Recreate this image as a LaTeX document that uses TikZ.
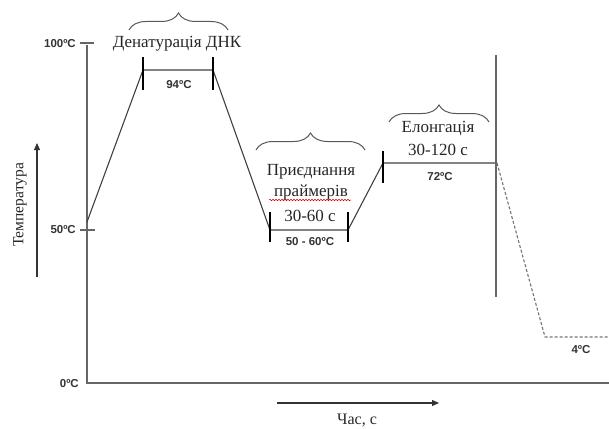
\documentclass[tikz,border=0pt]{standalone}
\usepackage{fontspec}
\setmainfont{Liberation Serif}
\newfontfamily\labfont{Liberation Sans}
\usetikzlibrary{decorations.pathreplacing,decorations.pathmorphing,arrows.meta,calc}
\begin{document}
\begin{tikzpicture}[x=1pt,y=-1pt,
  axisline/.style={draw=black!60, line width=1.1pt},
  profline/.style={draw=black!75, line width=1.1pt},
  dashline/.style={draw=black!55, line width=1.1pt, dash pattern=on 3pt off 2pt},
  barline/.style={draw=black, line width=1.8pt},
  tlab/.style={font=\labfont\bfseries\fontsize{11.5}{12}\selectfont, text=black!80, inner sep=0pt},
  sertext/.style={font=\fontsize{17}{19}\selectfont, text=black!85, inner sep=0pt},
  bracestyle/.style={draw=black!65, line width=1pt, decorate, decoration={brace, amplitude=17pt, aspect=0.5}},
  arrline/.style={draw=black!80, line width=1.1pt, -{Triangle[length=7pt,width=6pt]}}
]
\useasboundingbox (0,0) rectangle (609,428);
% axes
\coordinate (ytop) at (87,45);
\coordinate (orig) at (87,383);
\coordinate (xend) at (609,383);
\draw[axisline] (ytop) -- (orig) -- (xend);
\coordinate (t100a) at (80,43); \coordinate (t100b) at (94,43);
\coordinate (t50a) at (80,230); \coordinate (t50b) at (95,230);
\draw[axisline] (t100a) -- (t100b);
\draw[axisline] (t50a) -- (t50b);
\node[tlab, anchor=east] (l100) at (76,44) {100ºC};
\node[tlab, anchor=east] (l50) at (76,230) {50ºC};
\node[tlab, anchor=east] (l0) at (79,384) {0ºC};
% profile
\coordinate (p0) at (87,222);
\coordinate (p1) at (143,70);
\coordinate (p2) at (213,70);
\coordinate (p3) at (270,230);
\coordinate (p4) at (348,230);
\coordinate (p5) at (383,163);
\coordinate (p6) at (497,163);
\coordinate (p7) at (545,337);
\coordinate (p8) at (609,337);
\draw[profline] (p0) -- (p1) -- (p2) -- (p3) -- (p4) -- (p5) -- (p6);
\draw[dashline] (p6) -- (p7) -- (p8);
% bars
\draw[barline] ($(p1)+(0,-13)$) -- ($(p1)+(0,20)$);
\draw[barline] ($(p2)+(0,-13)$) -- ($(p2)+(0,20)$);
\draw[barline] ($(p3)+(0,-18)$) -- ($(p3)+(0,12)$);
\draw[barline] ($(p4)+(0,-18)$) -- ($(p4)+(0,12)$);
\draw[barline] ($(p5)+(0,-12)$) -- ($(p5)+(0,20)$);
% separator
\coordinate (s1) at (496,55);
\coordinate (s2) at (496,297);
\draw[axisline] (s1) -- (s2);
% temperature labels
\node[tlab] (t94) at (179,85) {94ºC};
\node[tlab] (t5060) at (310,242) {50 - 60ºC};
\node[tlab] (t72) at (440,177) {72ºC};
\node[tlab] (t4) at (581,350) {4ºC};
% braces
\draw[bracestyle] (129,30) -- (228,30);
\draw[bracestyle] (256,150) -- (365,150);
\draw[bracestyle] (389,122) -- (489,122);
% stage texts
\node[sertext] (den) at (177,44) {Денатурація ДНК};
\node[sertext] (pr1) at (311,172) {Приєднання};
\node[sertext] (pr2) at (311,192) {праймерів};
\node[sertext] (pr3) at (310,216) {30-60 с};
\node[sertext] (el1) at (438,129) {Елонгація};
\node[sertext] (el2) at (438,150) {30-120 с};
\coordinate (sq1) at (269,200);
\coordinate (sq2) at (351,200);
\draw[red!80!black, line width=0.5pt, decorate, decoration={snake, amplitude=0.8pt, segment length=3pt}] (sq1) -- (sq2);
% axis arrows
\coordinate (va) at (37,277);
\coordinate (vb) at (37,143);
\draw[arrline] (va) -- (vb);
\node[font=\fontsize{15.5}{17}\selectfont, text=black!85, inner sep=0pt, rotate=90] (temp) at (20,205) {Температура};
\coordinate (ha) at (277,403);
\coordinate (hb) at (439,403);
\draw[arrline] (ha) -- (hb);
\node[font=\fontsize{16}{18}\selectfont, text=black!85, inner sep=0pt] (time) at (357,420) {Час, с};
\end{tikzpicture}
\end{document}
